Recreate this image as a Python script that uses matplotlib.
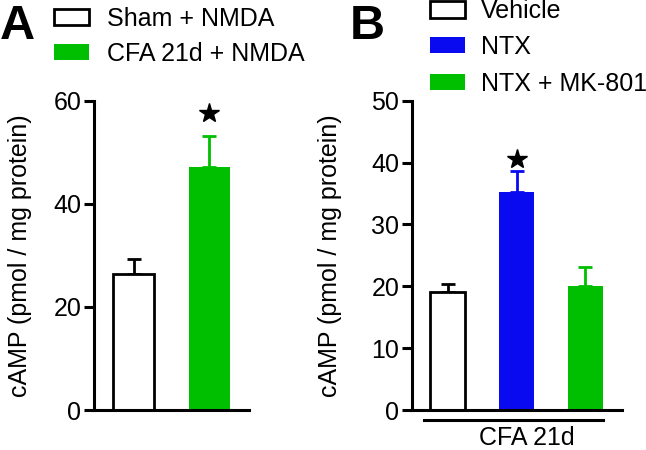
import matplotlib
matplotlib.use("Agg")
import matplotlib.pyplot as plt
from matplotlib.patches import Rectangle
from matplotlib.transforms import blended_transform_factory

plt.rcParams['font.family'] = ['Liberation Sans', 'DejaVu Sans']

# Panel A data
a_labels = ["Sham + NMDA", "CFA 21d + NMDA"]
a_values = [26.3, 47.1]
a_errors = [3.0, 6.1]
a_colors = ["white", "#00BF00"]
a_ecolors = ["black", "#00BF00"]
a_star_idx = [1]
a_star_y = [57.7]
a_yticks = [0, 20, 40, 60]

# Panel B data
b_labels = ["Vehicle", "NTX", "NTX + MK-801"]
b_values = [19.0, 35.3, 20.1]
b_errors = [1.4, 3.4, 3.0]
b_colors = ["white", "#0A0AF0", "#00BF00"]
b_ecolors = ["black", "#0A0AF0", "#00BF00"]
b_star_idx = [1]
b_star_y = [40.6]
b_yticks = [0, 10, 20, 30, 40, 50]
b_group_label = "CFA 21d"

W, H = 646, 450
fig = plt.figure(figsize=(W/100, H/100), dpi=100)

FS = 18
LW = 2.2


def px(x0, y0, x1, y1):
    return [x0 / W, 1 - y1 / H, (x1 - x0) / W, (y1 - y0) / H]


def draw_panel(ax, values, errors, colors, ecolors, star_idx, star_y, yticks, ymax, width, xlim):
    xs = list(range(len(values)))
    for x, v, e, c, ec in zip(xs, values, errors, colors, ecolors):
        ax.errorbar([x], [v], yerr=[[0], [e]], fmt='none', ecolor=ec, elinewidth=2.0,
                    capsize=5, capthick=2.0, zorder=1)
        ax.bar([x], [v], width=width, color=c, edgecolor='black' if c == 'white' else 'none',
               linewidth=2.0 if c == 'white' else 0, zorder=2)
    ax.plot(star_idx, star_y, linestyle='none', marker='*', color='black', markersize=15, zorder=3)
    ax.set_xlim(*xlim)
    ax.set_ylim(0, ymax)
    ax.set_yticks(yticks)
    ax.set_xticks([])
    for s in ['top', 'right']:
        ax.spines[s].set_visible(False)
    for s in ['left', 'bottom']:
        ax.spines[s].set_linewidth(LW)
    ax.tick_params(axis='y', direction='out', length=7, width=LW, labelsize=FS, pad=2)
    ax.set_ylabel("cAMP (pmol / mg protein)", fontsize=FS)


axA = fig.add_axes(px(94, 100.7, 249, 410))
draw_panel(axA, a_values, a_errors, a_colors, a_ecolors, a_star_idx, a_star_y, a_yticks, 60, 0.53, (-0.52, 1.52))
axA.yaxis.set_label_coords(-0.40, 0.5)

axB = fig.add_axes(px(411.7, 100.7, 621.7, 410))
draw_panel(axB, b_values, b_errors, b_colors, b_ecolors, b_star_idx, b_star_y, b_yticks, 50, 0.52, (-0.52, 2.525))
axB.yaxis.set_label_coords(-0.33, 0.5)

tr = blended_transform_factory(axB.transData, axB.transAxes)
axB.plot([-0.34, 2.25], [-0.032, -0.032], color='black', linewidth=LW, transform=tr, clip_on=False)
axB.text(1.15, -0.114, b_group_label, transform=tr, ha='center', va='baseline', fontsize=FS)

# Panel letters
fig.text(0 / W, 1 - 39 / H, "A", fontsize=35, fontweight='bold', ha='left', va='baseline')
fig.text(350 / W, 1 - 39 / H, "B", fontsize=35, fontweight='bold', ha='left', va='baseline')

# Legends
def legend_item(x0, x1, yc, h, color, label, tx, tb):
    fc = color
    ec = 'black' if color == 'white' else 'none'
    r = Rectangle((x0 / W, 1 - (yc + h / 2) / H), (x1 - x0) / W, h / H, transform=fig.transFigure,
                  facecolor=fc, edgecolor=ec, linewidth=2.0 if color == 'white' else 0)
    fig.patches.append(r)
    fig.text(tx / W, 1 - tb / H, label, fontsize=FS, ha='left', va='baseline')

a_leg_y = [17, 52]
a_leg_base = [26, 61]
for yc, tb, c, lab in zip(a_leg_y, a_leg_base, a_colors, a_labels):
    legend_item(54, 89, yc, 16, c, lab, 107, tb)

b_leg_y = [9.5, 45, 82]
b_leg_base = [18, 54, 91]
for yc, tb, c, lab in zip(b_leg_y, b_leg_base, b_colors, b_labels):
    legend_item(430, 465, yc, 16, c, lab, 481, tb)

fig.savefig("out.png", dpi=100)
